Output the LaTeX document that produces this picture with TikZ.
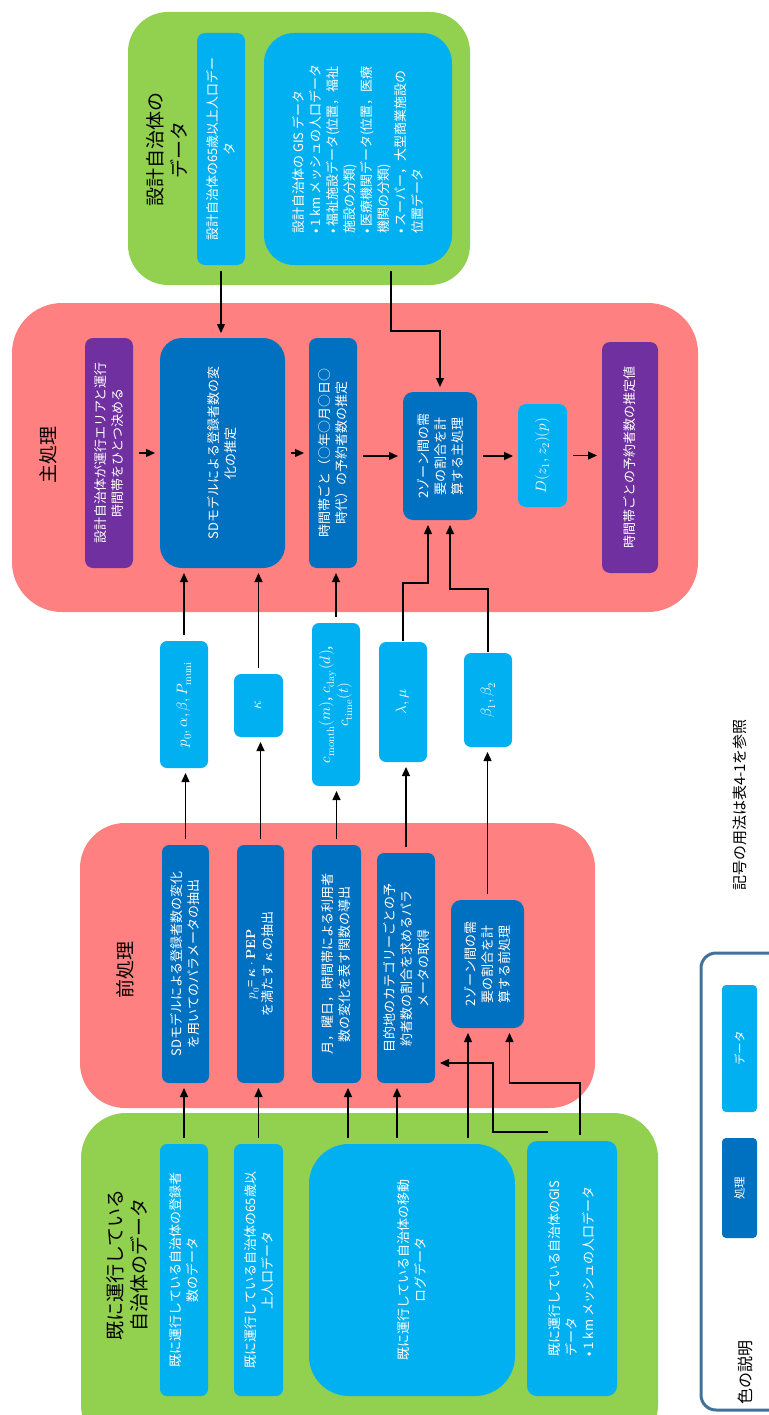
\documentclass[tikz,border=0pt]{standalone}
\usepackage{fontspec}
\usepackage{unicode-math}
\setmainfont{Noto Sans CJK JP}
\setmathfont{Latin Modern Math}
\usetikzlibrary{arrows.meta,fit,calc}
\definecolor{grn}{HTML}{92D050}
\definecolor{sal}{HTML}{FF8080}
\definecolor{lblue}{HTML}{00B0F0}
\definecolor{dblue}{HTML}{0070C0}
\definecolor{purp}{HTML}{7030A0}
\definecolor{legline}{HTML}{41719C}

\begin{document}
\begin{tikzpicture}[x=1pt,y=-1pt,
  box/.style={inner sep=0pt, outer sep=0pt, rounded corners=#1},
  box/.default=7pt,
  grp/.style={inner sep=0pt, outer sep=0pt, rounded corners=#1},
  txt/.style={rotate=90, text=white, align=center, inner sep=0pt,
    font=\fontsize{13}{17}\selectfont},
  mtxt/.style={txt, font=\fontsize{15}{18}\selectfont},
  ltxt/.style={txt, align=left},
  title/.style={rotate=90, text=black, align=center, inner sep=0pt,
    font=\fontsize{19}{24}\selectfont},
  arr/.style={draw=black, line width=1.3pt,
    -{Triangle[length=9pt,width=8pt]}, shorten >=5pt, shorten <=6pt},
]
\useasboundingbox (0,0) rectangle (768,1415);

% ---- group panels ----
\node[grp=40pt, fill=grn, fit={(128,12)(470,285)}] (desGrp) {};
\node[grp=50pt, fill=sal, fit={(12,303)(698,612)}] (mainGrp) {};
\node[grp=45pt, fill=sal, fit={(80,823)(595,1108)}] (preGrp) {};
\node[grp=45pt, fill=grn, fit={(81,1113)(658,1450)}] (datGrp) {};

\node[title] (desT) at (167,150) {設計自治体の\\データ};
\node[title] (mainT) at (48,455) {主処理};
\node[title] (preT) at (125,970) {前処理};
\node[title] (datT) at (127,1265) {既に運行している\\自治体のデータ};

% ---- design municipality data ----
\node[box=8pt, fill=lblue, fit={(197,33)(245,265)}] (desA) {};
\node[txt] (desA-t) at (desA.center) {設計自治体の65歳以上人口デー\\タ};
\node[box=30pt, fill=lblue, fit={(264,33)(452,265)}] (desB) {};
\node[ltxt] (desB-t) at (desB.center) {設計自治体の GIS データ\\• 1 km メッシュの人口データ\\• 福祉施設データ(位置，福祉\\施設の分類)\\• 医療機関データ(位置，医療\\機関の分類)\\• スーパー，大型商業施設の\\位置データ};

% ---- main processing ----
\node[box=8pt, fill=purp, fit={(85,338)(133,568)}] (pur1) {};
\node[txt] (pur1-t) at (pur1.center) {設計自治体が運行エリアと運行\\時間帯をひとつ決める};
\node[box=22pt, fill=dblue, fit={(160,338)(285,568)}] (sd) {};
\node[txt] (sd-t) at (sd.center) {SDモデルによる登録者数の変\\化の推定};
\node[box=8pt, fill=dblue, fit={(309,338)(357,568)}] (tz) {};
\node[txt] (tz-t) at (tz.center) {時間帯ごと（○年○月○日○\\時代）の予約者数の推定};
\node[box=10pt, fill=dblue, fit={(403,392)(477,520)}] (z2m) {};
\node[txt] (z2m-t) at (z2m.center) {2ゾーン間の需\\要の割合を計\\算する主処理};
\node[box=8pt, fill=lblue, fit={(518,404)(567,507)}] (dz) {};
\node[mtxt] (dz-t) at (dz.center) {$D(z_1,z_2)(p)$};
\node[box=8pt, fill=purp, fit={(602,342)(658,573)}] (pur2) {};
\node[txt] (pur2-t) at (pur2.center) {時間帯ごとの予約者数の推定値};

% ---- parameters ----
\node[box, fill=lblue, fit={(160,641)(208,768)}] (p0) {};
\node[mtxt] (p0-t) at (p0.center) {$p_0, \alpha, \beta, P_{\symup{muni}}$};
\node[box, fill=lblue, fit={(234,674)(283,737)}] (kap) {};
\node[mtxt] (kap-t) at (kap.center) {$\kappa$};
\node[box, fill=lblue, fit={(312,623)(360,786)}] (cm) {};
\node[mtxt] (cm-t) at (cm.center) {$c_{\symup{month}}(m)$, $c_{\symup{day}}(d)$,\\$c_{\symup{time}}(t)$};
\node[box, fill=lblue, fit={(379,642)(427,762)}] (lam) {};
\node[mtxt] (lam-t) at (lam.center) {$\lambda, \mu$};
\node[box, fill=lblue, fit={(464,653)(512,747)}] (bet) {};
\node[mtxt] (bet-t) at (bet.center) {$\beta_1, \beta_2$};

% ---- preprocessing ----
\node[box, fill=dblue, fit={(162,845)(209,1083)}] (pre1) {};
\node[txt] (pre1-t) at (pre1.center) {SDモデルによる登録者数の変化\\を用いてのパラメータの抽出};
\node[box, fill=dblue, fit={(237,845)(284,1083)}] (pre2) {};
\node[txt] (pre2-t) at (pre2.center) {$p_0$= $\symbf{\kappa}\cdot\symbf{PEP}$\\を満たす $\symbf{\kappa}$ の抽出};
\node[box, fill=dblue, fit={(312,845)(361,1083)}] (pre3) {};
\node[txt] (pre3-t) at (pre3.center) {月，曜日，時間帯による利用者\\数の変化を表す関数の導出};
\node[box, fill=dblue, fit={(377,853)(435,1083)}] (pre4) {};
\node[txt] (pre4-t) at (pre4.center) {目的地のカテゴリーごとの予\\約者数の割合を求めるパラ\\メータの取得};
\node[box=10pt, fill=dblue, fit={(451,900)(524,1028)}] (pre5) {};
\node[txt] (pre5-t) at (pre5.center) {2ゾーン間の需\\要の割合を計\\算する前処理};

% ---- data of operating municipalities ----
\node[box, fill=lblue, fit={(160,1144)(208,1396)}] (dat1) {};
\node[txt] (dat1-t) at (dat1.center) {既に運行している自治体の登録者\\数のデータ};
\node[box, fill=lblue, fit={(234,1144)(283,1396)}] (dat2) {};
\node[txt] (dat2-t) at (dat2.center) {既に運行している自治体の65歳以\\上人口データ};
\node[box=40pt, fill=lblue, fit={(309,1144)(515,1396)}] (log) {};
\node[txt] (log-t) at (log.center) {既に運行している自治体の移動\\ログデータ};
\node[box=10pt, fill=lblue, fit={(527,1141)(617,1396)}] (gis) {};
\node[ltxt] (gis-t) at (gis.center) {既に運行している自治体のGIS\\データ\\• 1 km メッシュの人口データ};

% ---- legend ----
\node[txt, text=black, font=\fontsize{15}{18}\selectfont] (note) at (740,805) {記号の用法は表4-1を参照};
\node[grp=15pt, draw=legline, line width=3pt, fill=white, fit={(701,953)(800,1410)}] (leg) {};
\node[box=4pt, fill=lblue, fit={(722,985)(757,1112)}] (legData) {};
\node[txt, font=\fontsize{11.5}{14}\selectfont] (legData-t) at (legData.center) {データ};
\node[box=4pt, fill=dblue, fit={(722,1138)(757,1238)}] (legProc) {};
\node[txt, font=\fontsize{11.5}{14}\selectfont] (legProc-t) at (legProc.center) {処理};
\node[txt, text=black, font=\fontsize{16}{19}\selectfont] (legT) at (745,1372) {色の説明};

% ---- connectors: main flow ----
\draw[arr] (pur1.east) -- (sd.west);
\draw[arr] (sd.east) -- (sd.east -| tz.west);
\draw[arr] (tz.east |- z2m.west) -- (z2m.west);
\draw[arr] (z2m.east) -- (z2m.east -| dz.west);
\draw[arr] (dz.east) -- (dz.east -| pur2.west);
\draw[arr] (desA.south) -- (desA.south |- sd.north);
\draw[arr] ($(desB.south)+(33,0)$) -- ++(0,66) -| (z2m.north);

% ---- connectors: parameters into main ----
\draw[arr] (p0.north) -- (p0.north |- sd.south);
\draw[arr] (kap.north) -- (kap.north |- sd.south);
\draw[arr] (cm.north) -- (cm.north |- tz.south);
\draw[arr, shorten <=1pt] (lam.north) |- ($(z2m.south)+(-12,63)$) -- ($(z2m.south)+(-12,0)$);
\draw[arr, shorten <=1pt] (bet.north) |- ($(z2m.south)+(10,69)$) -- ($(z2m.south)+(10,0)$);

% ---- connectors: preprocessing into parameters ----
\draw[arr] (pre1.north) -- (pre1.north |- p0.south);
\draw[arr] (pre2.north) -- (pre2.north |- kap.south);
\draw[arr] (pre3.north) -- (pre3.north |- cm.south);
\draw[arr] (pre4.north) -- (pre4.north |- lam.south);
\draw[arr] (pre5.north) -- (pre5.north |- bet.south);

% ---- connectors: data into preprocessing ----
\coordinate (l1) at ($(log.north west)+(39,0)$);
\coordinate (l2) at ($(log.north west)+(88,0)$);
\coordinate (l3) at ($(log.north west)+(159,0)$);
\draw[arr] (dat1.north) -- (dat1.north |- pre1.south);
\draw[arr] (dat2.north) -- (dat2.north |- pre2.south);
\draw[arr] (l1) -- (l1 |- pre3.south);
\draw[arr] (l2) -- (l2 |- pre4.south);
\draw[arr] (l3) -- (l3 |- pre5.south);
\draw[arr] ($(gis.north west)+(53,0)$) -- ++(0,-58) -| ($(pre5.south)+(22,0)$);
\draw[arr, shorten <=0pt] ($(gis.north west)+(21,-9)$) -| ($(pre4.south east)+(58,-20)$) -- ($(pre4.south east)+(0,-20)$);
\end{tikzpicture}
\end{document}
